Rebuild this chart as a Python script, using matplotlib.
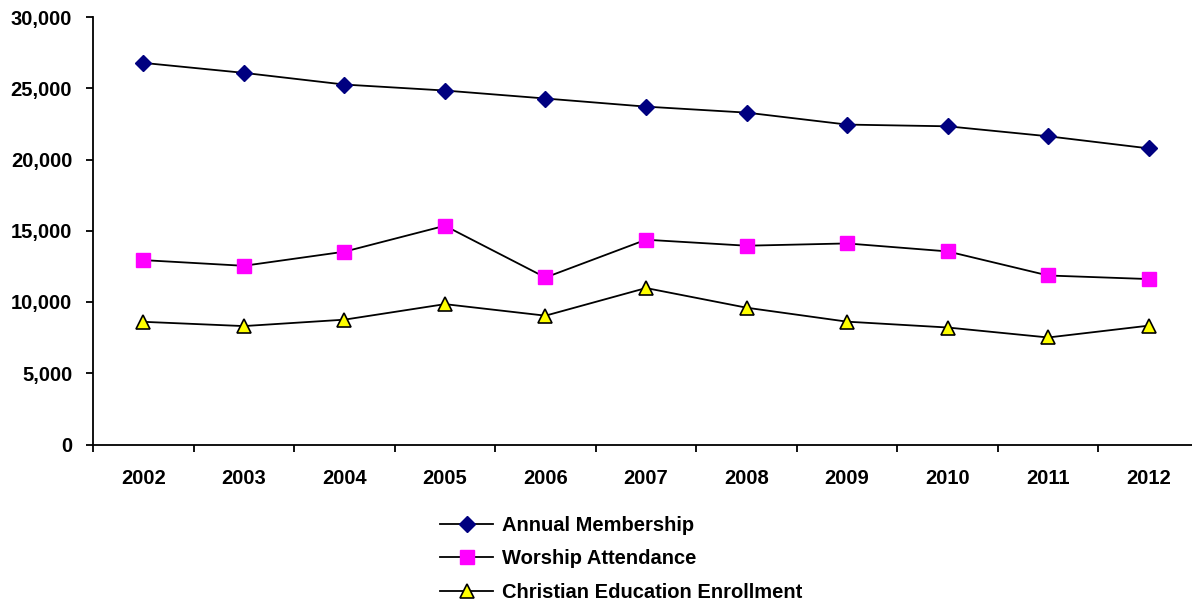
import matplotlib
matplotlib.use("Agg")
from matplotlib import pyplot as plt
from matplotlib.ticker import FuncFormatter, FixedLocator, NullFormatter

plt.rcParams['font.family'] = ['Liberation Sans', 'DejaVu Sans']
plt.rcParams['font.weight'] = 'bold'

years = ["2002", "2003", "2004", "2005", "2006", "2007", "2008", "2009", "2010", "2011", "2012"]
membership = [26780, 26080, 25260, 24840, 24280, 23710, 23290, 22450, 22330, 21630, 20780]
attendance = [12940, 12540, 13530, 15350, 11720, 14370, 13950, 14110, 13550, 11860, 11610]
enrollment = [8610, 8310, 8760, 9850, 9040, 10980, 9600, 8620, 8210, 7510, 8340]

fig = plt.figure(figsize=(11.92, 6.06), dpi=100)
ax = fig.add_axes([93 / 1192, 1 - 444.5 / 606, 1106 / 1192, 427.5 / 606])

x = list(range(len(years)))
ax.plot(x, membership, color="black", lw=1.3, marker="D", ms=8.5,
        mfc="#000080", mec="#000080", label="Annual Membership")
ax.plot(x, attendance, color="black", lw=1.3, marker="s", ms=10,
        mfc="#FF00FF", mec="#FF00FF", label="Worship Attendance")
ax.plot(x, enrollment, color="black", lw=1.3, marker="^", ms=9.5,
        mfc="#FFFF00", mec="black", mew=1.2, label="Christian Education Enrollment")

ax.set_xlim(-0.5, len(years) - 0.5)
ax.set_ylim(0, 30000)
ax.set_yticks(range(0, 30001, 5000))
ax.yaxis.set_major_formatter(FuncFormatter(lambda v, p: "{:,.0f}".format(v)))

# category labels centered, tick marks between categories
ax.xaxis.set_major_locator(FixedLocator([i - 0.5 for i in range(len(years) + 1)]))
ax.xaxis.set_major_formatter(NullFormatter())
ax.xaxis.set_minor_locator(FixedLocator(x))
ax.set_xticklabels(years, minor=True)
ax.tick_params(axis="x", which="minor", length=0, pad=17.5, labelsize=14.5)
ax.tick_params(axis="x", which="major", length=5, width=1.3, direction="out")
ax.tick_params(axis="y", length=5, width=1.3, pad=10, labelsize=14.5)

for s in ["top", "right"]:
    ax.spines[s].set_visible(False)
for s in ["left", "bottom"]:
    ax.spines[s].set_linewidth(1.3)

fig.legend(loc="center left", bbox_to_anchor=(440 / 1192, 1 - 559 / 606),
           frameon=False, borderpad=0, borderaxespad=0, handlelength=2.65,
           handletextpad=0.45, labelspacing=0.7, prop={"size": 14.5, "weight": "bold"})

fig.savefig("out.png", dpi=100)
